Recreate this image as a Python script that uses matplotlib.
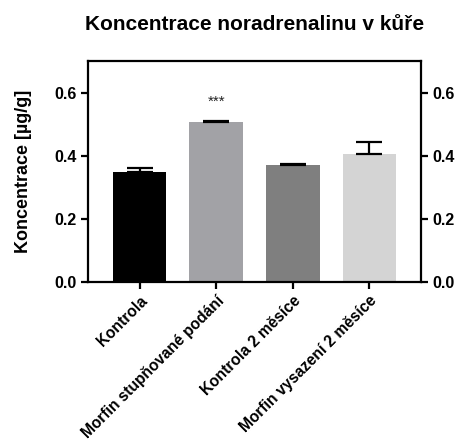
import matplotlib.pyplot as plt
import numpy as np

plt.rcParams['font.family'] = ['Liberation Sans', 'DejaVu Sans']
plt.rcParams['font.weight'] = 'bold'

groups = ['Kontrola', 'Morfin stupňované podání', 'Kontrola 2 měsíce', 'Morfin vysazení 2 měsíce']
means = [0.350, 0.506, 0.370, 0.407]
sem = [0.010, 0.004, 0.003, 0.035]
colors = ['#000000', '#a2a2a6', '#7f7f7f', '#d4d4d4']
yticks = [0.0, 0.2, 0.4, 0.6]

fig = plt.figure(figsize=(4.6, 4.46), dpi=100)
ax = fig.add_axes([88 / 460, 1 - 282 / 446, 333 / 460, 221 / 446])

x = np.arange(len(groups))
ax.bar(x, means, width=0.7, color=colors, zorder=2)
# upper-only error bars, GraphPad style
ax.errorbar(x, means, yerr=[np.zeros(len(sem)), sem], fmt='none', ecolor='black',
            elinewidth=1.6, capsize=9.5, capthick=1.6, zorder=3)
ax.text(x[1], 0.572, '***', ha='center', va='center', fontsize=11, fontweight='normal',
        color='#222222')

ax.set_xlim(-0.675, 3.675)
ax.set_ylim(0, 0.7)
ax.set_yticks(yticks)
ax.set_yticklabels([f'{v:.1f}' for v in yticks])
ax.set_xticks(x)
ax.set_xticklabels(groups, rotation=45, ha='right', rotation_mode='anchor')
ax.tick_params(axis='both', width=1.6, length=5, pad=3)
ax.tick_params(axis='y', labelsize=11.5, right=True, labelright=True)
ax.tick_params(axis='x', labelsize=11.2, pad=3)
for sp in ax.spines.values():
    sp.set_linewidth(1.6)

ax.set_ylabel('Koncentrace [µg/g]', fontsize=13, fontweight='bold', labelpad=16)
fig.text(255 / 460, 1 - 25 / 446, 'Koncentrace noradrenalinu v kůře', ha='center', va='center',
         fontsize=15, fontweight='bold')

fig.savefig('out.png', dpi=100)
